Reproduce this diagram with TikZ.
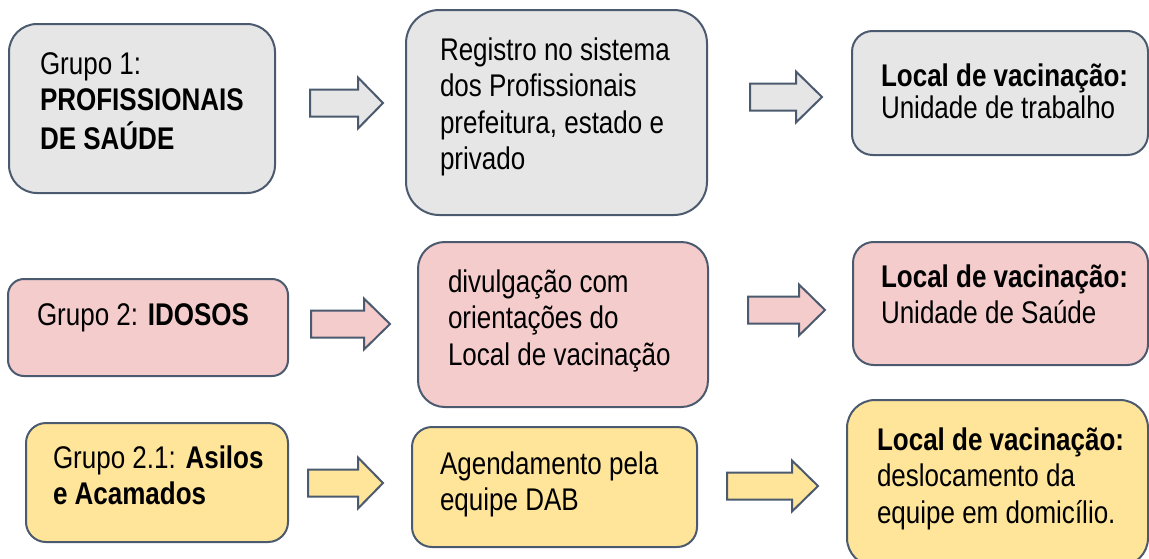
\documentclass[tikz,border=0pt]{standalone}
\usepackage{fontspec}
\setmainfont{Liberation Sans}[FakeStretch=0.83]
\usepackage{tikz}
\usetikzlibrary{positioning,fit}

\definecolor{boxline}{HTML}{4B5A6E}
\definecolor{grayfill}{HTML}{E6E6E6}
\definecolor{pinkfill}{HTML}{F4CCCC}
\definecolor{yellowfill}{HTML}{FFE599}

\newcommand{\boxtext}[1]{\begin{tabular}[t]{@{}l@{}}#1\end{tabular}}
\newcommand{\blockarrow}[5]{%
  \filldraw[arrowshape,#1] (#2,{#5-13.5}) -- (#3,{#5-13.5}) -- (#3,{#5-25.5}) -- (#4,#5)
    -- (#3,{#5+25.5}) -- (#3,{#5+13.5}) -- (#2,{#5+13.5}) -- cycle;}

\begin{document}
\begin{tikzpicture}[x=0.75pt, y=-0.75pt, line width=1.5pt, font=\fontsize{23.5}{27.4}\selectfont]
    \tikzstyle{box}=[draw=boxline, inner sep=0pt]
    \tikzstyle{txt}=[anchor=base west, inner sep=0pt]
    \tikzstyle{arrowshape}=[draw=boxline, line join=miter]

    \useasboundingbox (0,0) rectangle (1149,558);

    \node[box, fill=grayfill, rounded corners=21pt, fit={(9,24) (275,193)}] (grp1) {};
    \node[box, fill=grayfill, rounded corners=25pt, fit={(406,10) (707,215)}] (registro) {};
    \node[box, fill=grayfill, rounded corners=15.5pt, fit={(852,31) (1148,155)}] (localtrab) {};

    \node[box, fill=pinkfill, rounded corners=12pt, fit={(8,279) (288,376)}] (grp2) {};
    \node[box, fill=pinkfill, rounded corners=20pt, fit={(418,242) (708,407)}] (divulg) {};
    \node[box, fill=pinkfill, rounded corners=15.5pt, fit={(853,242) (1148,365)}] (localsaude) {};

    \node[box, fill=yellowfill, rounded corners=15pt, fit={(26,423) (288,542)}] (grp21) {};
    \node[box, fill=yellowfill, rounded corners=15pt, fit={(412,427) (697,547)}] (agenda) {};
    \node[box, fill=yellowfill, rounded corners=21pt, fit={(847,400) (1148,566)}] (localdom) {};

    \node[txt] (grp1txt) at (39,74) {\boxtext{Grupo 1:\\\textbf{PROFISSIONAIS}\\\textbf{DE SAÚDE}}};
    \node[txt] (registrotxt) at (439,60) {\boxtext{Registro no sistema\\dos Profissionais\\prefeitura, estado e\\privado}};
    \node[txt] (localtrabtxt) at (880,86) {\renewcommand{\arraystretch}{0.86}\boxtext{\textbf{Local de vacinação:}\\Unidade de trabalho}};

    \node[txt] (grp2txt) at (36,325) {\boxtext{Grupo 2: \textbf{IDOSOS}}};
    \node[txt] (divulgtxt) at (447,292) {\boxtext{divulgação com\\orientações do\\Local de vacinação}};
    \node[txt] (localsaudetxt) at (880,287) {\boxtext{\textbf{Local de vacinação:}\\Unidade de Saúde}};

    \node[txt] (grp21txt) at (52,468) {\boxtext{Grupo 2.1: \textbf{Asilos}\\\textbf{e Acamados}}};
    \node[txt] (agendatxt) at (439,474) {\boxtext{Agendamento pela\\equipe DAB}};
    \node[txt] (localdomtxt) at (876,450) {\boxtext{\textbf{Local de vacinação:}\\deslocamento da\\equipe em domicílio.}};

    \blockarrow{fill=grayfill}{310}{358}{383}{103}
    \blockarrow{fill=grayfill}{750}{796}{822}{97}
    \blockarrow{fill=pinkfill}{311}{364}{390}{324}
    \blockarrow{fill=pinkfill}{748}{799}{825}{310}
    \blockarrow{fill=yellowfill}{308}{358}{383}{483}
    \blockarrow{fill=yellowfill}{727}{792}{818}{486}

\end{tikzpicture}
\end{document}
